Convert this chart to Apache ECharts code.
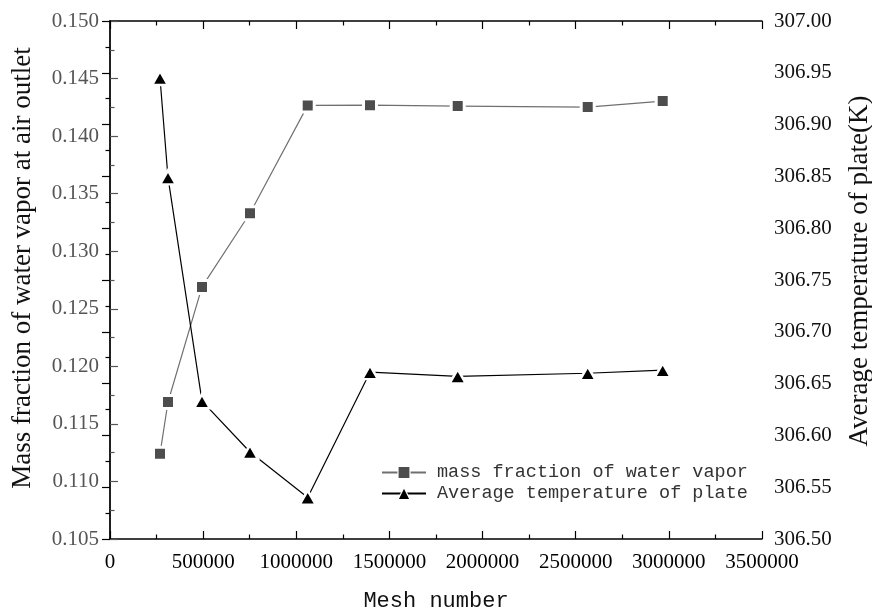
<!DOCTYPE html>
<html>
<head>
<meta charset="utf-8">
<script src="https://cdn.jsdelivr.net/npm/echarts@6/dist/echarts.min.js"></script>
<style>
  html, body { margin: 0; padding: 0; background: #fff; }
  #chart { width: 872px; height: 612px; }
</style>
</head>
<body>
<div id="chart"></div>
<script>
// Grid-independence study: mesh size vs outlet vapour fraction and plate temperature
var meshNumber = [268400, 311300, 493900, 751500, 1061300, 1395700, 1866500, 2564400, 2967000];
var massFraction = [0.1124, 0.1169, 0.1269, 0.1333, 0.14267, 0.14269, 0.14261, 0.14252, 0.14304];
var plateTemp = [306.945, 306.849, 306.633, 306.584, 306.540, 306.661, 306.657, 306.660, 306.663];

var seriesNames = ['mass fraction of water vapor', 'Average temperature of plate'];
var xTitle = 'Mesh number';
var yLeftTitle = 'Mass fraction of water vapor at air outlet';
var yRightTitle = 'Average temperature of plate(K)';

var serif = '"Liberation Serif", "Times New Roman", serif';
var mono = '"Liberation Mono", "DejaVu Sans Mono", monospace';

function pairs(xs, ys) {
  return xs.map(function (x, i) { return [x, ys[i]]; });
}

var chart = echarts.init(document.getElementById('chart'), null, { renderer: 'canvas' });

var tickCommon = function (color) {
  return {
    axisLine: { show: true, lineStyle: { color: color, width: 1.5 } },
    axisTick: { show: true, inside: true, length: 8, lineStyle: { color: color, width: 1.2 } },
    minorTick: { show: true, splitNumber: 2, length: 4.5, lineStyle: { color: color, width: 1.2 } },
    splitLine: { show: false },
    minorSplitLine: { show: false }
  };
};

var option = {
  animation: false,
  backgroundColor: '#ffffff',
  grid: { left: 110, right: 110, top: 21, bottom: 73, containLabel: false },
  xAxis: [
    Object.assign({
      type: 'value', position: 'bottom', min: 0, max: 3500000, interval: 500000,
      axisLabel: {
        margin: 13, color: '#000', fontFamily: serif, fontSize: 21,
        formatter: function (v) { return String(v); }
      }
    }, tickCommon('#000')),
    Object.assign({
      type: 'value', position: 'top', min: 0, max: 3500000, interval: 500000,
      axisLabel: { show: false }
    }, tickCommon('#000'))
  ],
  yAxis: [
    Object.assign({
      type: 'value', position: 'left', min: 0.105, max: 0.150, interval: 0.005,
      axisLabel: {
        margin: 11, color: '#555', fontFamily: serif, fontSize: 21,
        formatter: function (v) { return v.toFixed(3); }
      }
    }, tickCommon('#555')),
    Object.assign({
      type: 'value', position: 'right', min: 306.5, max: 307.0, interval: 0.05,
      axisLabel: {
        margin: 12, color: '#111', fontFamily: serif, fontSize: 21,
        formatter: function (v) { return v.toFixed(2); }
      }
    }, tickCommon('#000'))
  ],
  legend: {
    orient: 'vertical', left: 381, top: 463, padding: 0,
    itemWidth: 44, itemHeight: 15, itemGap: 2,
    itemStyle: { borderWidth: 1.2 },
    textStyle: { fontFamily: mono, fontSize: 18.5, color: '#333', padding: [0, 0, 0, 6] },
    data: seriesNames
  },
  series: [
    {
      name: seriesNames[0], type: 'line', xAxisIndex: 0, yAxisIndex: 0,
      data: pairs(meshNumber, massFraction),
      symbol: 'rect', symbolSize: 13,
      itemStyle: { color: '#4d4d4d', borderColor: '#fff', borderWidth: 3 },
      lineStyle: { color: '#707070', width: 1.2 },
      z: 3
    },
    {
      name: seriesNames[1], type: 'line', xAxisIndex: 0, yAxisIndex: 1,
      data: pairs(meshNumber, plateTemp),
      symbol: 'triangle', symbolSize: [16, 14],
      itemStyle: { color: '#000', borderColor: '#fff', borderWidth: 2.5 },
      lineStyle: { color: '#000', width: 1.2 },
      z: 4
    }
  ],
  graphic: [
    {
      type: 'text', x: 436, y: 601,
      style: { text: xTitle, fontFamily: mono, fontSize: 22, fill: '#111',
               textAlign: 'center', textVerticalAlign: 'middle' }
    },
    {
      type: 'text', x: 23, y: 268, rotation: Math.PI / 2,
      style: { text: yLeftTitle, fontFamily: serif, fontSize: 27, fill: '#111',
               textAlign: 'center', textVerticalAlign: 'middle' }
    },
    {
      type: 'text', x: 860, y: 271, rotation: Math.PI / 2,
      style: { text: yRightTitle, fontFamily: serif, fontSize: 27, fill: '#111',
               textAlign: 'center', textVerticalAlign: 'middle' }
    }
  ]
};

chart.setOption(option);
</script>
</body>
</html>
